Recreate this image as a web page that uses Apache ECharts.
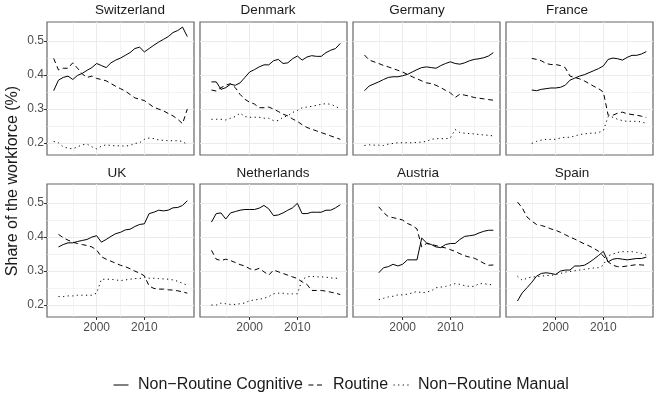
<!DOCTYPE html>
<html>
<head>
<meta charset="utf-8">
<script src="https://cdn.jsdelivr.net/npm/echarts@6/dist/echarts.min.js"></script>
<style>
  html, body { margin: 0; padding: 0; background: #fff; }
  #chart { width: 657px; height: 396px; }
</style>
</head>
<body>
<div id="chart"></div>
<script>
// 数据
const countries = ['Switzerland', 'Denmark', 'Germany', 'France', 'UK', 'Netherlands', 'Austria', 'Spain']
const startYears = [1991, 1992, 1992, 1995, 1992, 1992, 1995, 1992]
const seriesNames = ['Non\u2212Routine Cognitive', 'Routine', 'Non\u2212Routine Manual']
const xTicks = [2000, 2010]
const xMinorGrid = [1995, 2005, 2015]
const yTicks = [0.2, 0.3, 0.4, 0.5]
const yMinorGrid = [0.25, 0.35, 0.45]

const cognitive = [
  [0.354, 0.385, 0.393, 0.397, 0.387, 0.399, 0.405, 0.414, 0.422, 0.434, 0.428, 0.422, 0.436, 0.444, 0.450, 0.458, 0.466, 0.478, 0.482, 0.468, 0.478, 0.488, 0.497, 0.505, 0.513, 0.525, 0.531, 0.541, 0.513],
  [0.380, 0.380, 0.358, 0.363, 0.373, 0.370, 0.377, 0.393, 0.409, 0.416, 0.424, 0.430, 0.430, 0.442, 0.446, 0.434, 0.436, 0.448, 0.456, 0.444, 0.453, 0.457, 0.455, 0.455, 0.466, 0.473, 0.478, 0.493],
  [0.354, 0.368, 0.374, 0.380, 0.387, 0.393, 0.395, 0.395, 0.398, 0.402, 0.409, 0.416, 0.422, 0.424, 0.422, 0.420, 0.428, 0.434, 0.439, 0.434, 0.432, 0.436, 0.442, 0.446, 0.448, 0.451, 0.456, 0.466],
  [0.356, 0.354, 0.358, 0.360, 0.362, 0.362, 0.364, 0.370, 0.385, 0.391, 0.397, 0.401, 0.407, 0.413, 0.419, 0.427, 0.446, 0.450, 0.448, 0.444, 0.452, 0.458, 0.458, 0.462, 0.469],
  [0.371, 0.378, 0.383, 0.383, 0.387, 0.390, 0.393, 0.400, 0.404, 0.385, 0.393, 0.402, 0.410, 0.414, 0.421, 0.423, 0.431, 0.437, 0.439, 0.469, 0.473, 0.479, 0.477, 0.479, 0.486, 0.487, 0.493, 0.507],
  [0.444, 0.469, 0.471, 0.453, 0.471, 0.475, 0.479, 0.481, 0.481, 0.481, 0.485, 0.493, 0.483, 0.463, 0.465, 0.471, 0.479, 0.486, 0.499, 0.469, 0.469, 0.473, 0.473, 0.473, 0.479, 0.479, 0.486, 0.495],
  [0.295, 0.310, 0.313, 0.320, 0.315, 0.320, 0.333, 0.333, 0.333, 0.397, 0.383, 0.378, 0.371, 0.369, 0.378, 0.381, 0.381, 0.393, 0.402, 0.404, 0.406, 0.412, 0.417, 0.420, 0.420],
  [0.212, 0.236, 0.251, 0.267, 0.285, 0.293, 0.295, 0.293, 0.290, 0.300, 0.303, 0.303, 0.315, 0.315, 0.317, 0.325, 0.335, 0.346, 0.358, 0.327, 0.335, 0.337, 0.335, 0.333, 0.335, 0.337, 0.337, 0.341]
]
const routine = [
  [0.449, 0.415, 0.420, 0.420, 0.436, 0.420, 0.403, 0.393, 0.397, 0.390, 0.387, 0.383, 0.375, 0.367, 0.360, 0.353, 0.343, 0.333, 0.329, 0.325, 0.315, 0.305, 0.300, 0.295, 0.287, 0.280, 0.270, 0.257, 0.300],
  [0.356, 0.353, 0.363, 0.370, 0.375, 0.363, 0.343, 0.329, 0.320, 0.315, 0.304, 0.304, 0.306, 0.300, 0.293, 0.285, 0.280, 0.271, 0.264, 0.254, 0.246, 0.241, 0.236, 0.231, 0.226, 0.221, 0.216, 0.211],
  [0.459, 0.444, 0.439, 0.434, 0.428, 0.424, 0.419, 0.414, 0.409, 0.402, 0.395, 0.389, 0.383, 0.377, 0.375, 0.370, 0.363, 0.355, 0.348, 0.334, 0.344, 0.341, 0.338, 0.334, 0.332, 0.330, 0.328, 0.326],
  [0.449, 0.446, 0.442, 0.434, 0.431, 0.431, 0.428, 0.422, 0.397, 0.393, 0.389, 0.383, 0.375, 0.367, 0.360, 0.350, 0.282, 0.282, 0.288, 0.291, 0.286, 0.284, 0.282, 0.279, 0.275],
  [0.408, 0.398, 0.391, 0.385, 0.381, 0.378, 0.375, 0.371, 0.362, 0.342, 0.335, 0.329, 0.323, 0.317, 0.313, 0.307, 0.300, 0.294, 0.286, 0.256, 0.249, 0.247, 0.247, 0.245, 0.244, 0.242, 0.239, 0.235],
  [0.361, 0.335, 0.331, 0.335, 0.331, 0.325, 0.319, 0.315, 0.307, 0.303, 0.308, 0.298, 0.288, 0.303, 0.298, 0.293, 0.288, 0.283, 0.278, 0.268, 0.261, 0.243, 0.243, 0.243, 0.241, 0.238, 0.235, 0.231],
  [0.489, 0.472, 0.460, 0.457, 0.454, 0.450, 0.440, 0.434, 0.424, 0.371, 0.381, 0.378, 0.375, 0.371, 0.368, 0.363, 0.358, 0.351, 0.345, 0.341, 0.338, 0.331, 0.323, 0.317, 0.318],
  [0.503, 0.486, 0.459, 0.447, 0.437, 0.434, 0.430, 0.424, 0.420, 0.414, 0.407, 0.400, 0.394, 0.387, 0.380, 0.374, 0.367, 0.358, 0.344, 0.327, 0.317, 0.313, 0.313, 0.315, 0.317, 0.319, 0.318, 0.317]
]
const manual = [
  [0.205, 0.201, 0.189, 0.185, 0.183, 0.189, 0.195, 0.197, 0.189, 0.183, 0.191, 0.195, 0.193, 0.192, 0.192, 0.191, 0.193, 0.199, 0.201, 0.211, 0.215, 0.213, 0.209, 0.208, 0.207, 0.207, 0.207, 0.205, 0.195],
  [0.270, 0.270, 0.270, 0.268, 0.273, 0.278, 0.288, 0.278, 0.276, 0.276, 0.276, 0.273, 0.273, 0.266, 0.266, 0.276, 0.280, 0.290, 0.296, 0.304, 0.306, 0.308, 0.311, 0.314, 0.316, 0.314, 0.308, 0.300],
  [0.193, 0.195, 0.194, 0.194, 0.193, 0.197, 0.199, 0.201, 0.201, 0.201, 0.201, 0.202, 0.203, 0.205, 0.211, 0.213, 0.213, 0.213, 0.215, 0.240, 0.231, 0.229, 0.228, 0.227, 0.225, 0.224, 0.223, 0.221],
  [0.199, 0.205, 0.209, 0.211, 0.211, 0.211, 0.215, 0.217, 0.217, 0.221, 0.225, 0.227, 0.229, 0.229, 0.231, 0.237, 0.278, 0.276, 0.270, 0.266, 0.264, 0.264, 0.264, 0.262, 0.258],
  [0.225, 0.225, 0.227, 0.227, 0.229, 0.229, 0.229, 0.229, 0.235, 0.276, 0.276, 0.276, 0.274, 0.272, 0.274, 0.276, 0.278, 0.278, 0.282, 0.279, 0.279, 0.278, 0.277, 0.276, 0.274, 0.270, 0.264, 0.258],
  [0.200, 0.200, 0.206, 0.204, 0.202, 0.202, 0.204, 0.206, 0.213, 0.215, 0.217, 0.220, 0.225, 0.233, 0.235, 0.235, 0.233, 0.233, 0.233, 0.275, 0.283, 0.285, 0.283, 0.283, 0.282, 0.280, 0.279, 0.279],
  [0.216, 0.220, 0.224, 0.226, 0.230, 0.230, 0.232, 0.236, 0.240, 0.236, 0.238, 0.242, 0.251, 0.253, 0.255, 0.259, 0.263, 0.261, 0.257, 0.255, 0.255, 0.263, 0.263, 0.261, 0.259],
  [0.285, 0.273, 0.279, 0.283, 0.283, 0.285, 0.287, 0.287, 0.290, 0.293, 0.297, 0.299, 0.301, 0.303, 0.305, 0.307, 0.309, 0.310, 0.317, 0.345, 0.350, 0.355, 0.357, 0.357, 0.357, 0.355, 0.352, 0.347]
]

// 布局
const FONT = '"Liberation Sans", Arial, sans-serif'
const colLeft = [47, 200, 353, 506]
const rowTop = [22, 184]
const panelW = 147
const panelH = 133
const titleX = [130, 268, 417, 567, 117, 273, 418, 572]
const titleY = [10, 173]
const xRange = [1989.6, 2020.4]
const yRange = [0.165, 0.556]
const dashes = ['solid', [5, 3.5], [1.2, 3.4]]
const gridColor = '#ebebeb'

const chart = echarts.init(document.getElementById('chart'), null, { renderer: 'canvas' })

const grids = []
const xAxes = []
const yAxes = []
const series = []
const graphics = []

countries.forEach(function(name, i) {
  const col = i % 4
  const row = Math.floor(i / 4)
  const bottomRow = row === 1
  const leftCol = col === 0

  grids.push({
    left: colLeft[col], top: rowTop[row], width: panelW, height: panelH,
    show: true, backgroundColor: '#fff', borderColor: '#666', borderWidth: 1.2
  })

  // 主刻度 x
  xAxes.push({
    gridIndex: i, type: 'value', min: xRange[0], max: xRange[1],
    axisLine: { show: false },
    axisTick: { show: bottomRow, customValues: xTicks, length: 3, lineStyle: { color: '#333' } },
    axisLabel: {
      show: bottomRow, customValues: xTicks, margin: 5,
      fontSize: 12, color: '#4d4d4d', fontFamily: FONT,
      formatter: function(v) { return String(v) }
    },
    splitLine: { show: true, lineStyle: { color: gridColor, width: 1 } }
  })
  // 次网格 x
  xAxes.push({
    gridIndex: i, type: 'value', min: xRange[0], max: xRange[1],
    axisLine: { show: false },
    axisTick: { show: false, customValues: xMinorGrid },
    axisLabel: { show: false },
    splitLine: { show: true, lineStyle: { color: gridColor, width: 0.6 } }
  })

  yAxes.push({
    gridIndex: i, type: 'value', min: yRange[0], max: yRange[1],
    axisLine: { show: false },
    axisTick: { show: leftCol, customValues: yTicks, length: 3, lineStyle: { color: '#333' } },
    axisLabel: {
      show: leftCol, customValues: yTicks, margin: 3,
      fontSize: 12, color: '#4d4d4d', fontFamily: FONT,
      formatter: function(v) { return v.toFixed(1) }
    },
    splitLine: { show: true, lineStyle: { color: gridColor, width: 1 } }
  })
  yAxes.push({
    gridIndex: i, type: 'value', min: yRange[0], max: yRange[1],
    axisLine: { show: false },
    axisTick: { show: false, customValues: yMinorGrid },
    axisLabel: { show: false },
    splitLine: { show: true, lineStyle: { color: gridColor, width: 0.6 } }
  })

  const groups = [cognitive[i], routine[i], manual[i]]
  groups.forEach(function(vals, k) {
    series.push({
      name: seriesNames[k],
      type: 'line',
      xAxisIndex: 2 * i,
      yAxisIndex: 2 * i,
      symbol: 'none',
      showSymbol: false,
      silent: true,
      color: '#000',
      lineStyle: { color: '#000', width: 1, type: dashes[k] },
      data: vals.map(function(v, j) { return [startYears[i] + j, v] })
    })
  })

  graphics.push({
    type: 'text', x: titleX[i], y: titleY[row],
    style: {
      text: name, fontSize: 13.5, fontFamily: FONT, fill: '#1a1a1a',
      align: 'center', verticalAlign: 'middle'
    }
  })
})

graphics.push({
  type: 'text', x: 13, y: 181, rotation: Math.PI / 2,
  style: {
    text: 'Share of the workforce (%)', fontSize: 16, fontFamily: FONT, fill: '#1a1a1a',
    align: 'center', verticalAlign: 'middle'
  }
})

chart.setOption({
  animation: false,
  backgroundColor: '#fff',
  grid: grids,
  xAxis: xAxes,
  yAxis: yAxes,
  series: series,
  graphic: graphics,
  legend: {
    data: seriesNames,
    left: 108,
    top: 372,
    itemWidth: 15,
    itemHeight: 10,
    itemGap: 5,
    selectedMode: false,
    // 图例只画线，不画圆点
    itemStyle: { color: 'transparent', borderWidth: 0, opacity: 0 },
    lineStyle: { width: 1 },
    formatter: function(n) { return ' ' + n },
    textStyle: { fontSize: 16, color: '#1a1a1a', fontFamily: FONT }
  }
})
</script>
</body>
</html>
